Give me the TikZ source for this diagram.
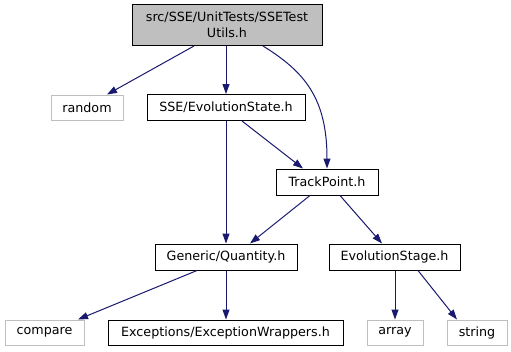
\documentclass[tikz,border=0pt]{standalone}
\usepackage{fontspec}
\setmainfont{DejaVu Sans}
\usetikzlibrary{arrows.meta}
\definecolor{edgeblue}{HTML}{191970}
\definecolor{greyfill}{HTML}{BFBFBF}
\newcommand{\dgfont}{\fontsize{12.7}{16}\selectfont}
\tikzset{
  filebox/.style={draw=black, line width=1pt, rectangle, inner sep=0pt,
    minimum height=26, font=\dgfont, text=black, align=center},
  sysbox/.style={filebox, draw=greyfill, minimum height=25},
  incl/.style={draw=edgeblue, line width=1pt,
    -{Triangle[length=10pt,width=7pt]}},
}
\begin{document}
\begin{tikzpicture}[x=1pt,y=-1pt]
\useasboundingbox (0,0) rectangle (511,351);

% include graph nodes
\node[filebox, fill=greyfill, minimum width=190, minimum height=41] (top) at (227,25)
  {src/SSE/UnitTests/SSETest\\Utils.h};
\node[sysbox, minimum width=72] (random) at (87,107.5) {random};
\node[filebox, minimum width=158] (evo) at (226,107.5) {SSE/EvolutionState.h};
\node[filebox, minimum width=102] (tp) at (327,182) {TrackPoint.h};
\node[filebox, minimum width=142] (qty) at (226,257) {Generic/Quantity.h};
\node[filebox, minimum width=131] (stage) at (394.5,257) {EvolutionStage.h};
\node[sysbox, minimum width=79] (compare) at (44.5,332.5) {compare};
\node[filebox, minimum width=235, minimum height=25] (exc) at (225.5,332.5) {Exceptions/ExceptionWrappers.h};
\node[sysbox, minimum width=56] (array) at (395,332.5) {array};
\node[sysbox, minimum width=60] (string) at (477,332.5) {string};

% include edges
\draw[incl] ([xshift=-33pt]top.south) -- ([xshift=20pt]random.north);
\draw[incl] (evo.north |- top.south) -- (evo.north);
\draw[incl] ([xshift=36pt]top.south) .. controls +(42,26) and +(0,-70) .. (tp.north);
\draw[incl] ([xshift=16pt]evo.south) -- ([xshift=-24pt]tp.north);
\draw[incl] (evo.south) -- (qty.north);
\draw[incl] ([xshift=-17pt]tp.south) -- ([xshift=24pt]qty.north);
\draw[incl] ([xshift=13pt]tp.south) -- ([xshift=-12.5pt]stage.north);
\draw[incl] ([xshift=-29pt]qty.south) -- ([xshift=33.5pt]compare.north);
\draw[incl] (qty.south) -- (qty.south |- exc.north);
\draw[incl] (array.north |- stage.south) -- (array.north);
\draw[incl] ([xshift=23.5pt]stage.south) -- ([xshift=-20pt]string.north);
\end{tikzpicture}
\end{document}
